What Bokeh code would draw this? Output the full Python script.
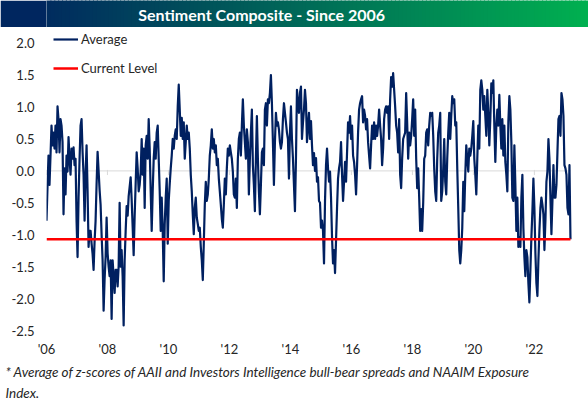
import pandas as pd
from bokeh.plotting import figure
from bokeh.models import (Range1d, FixedTicker, CustomJSTickFormatter,
                          NumeralTickFormatter, Label, Title)
from bokeh.layouts import column
from bokeh.embed import file_html
from bokeh.resources import INLINE

# ---------------- data ----------------
avg_2006_07 = [-0.78, -0.25, 0.24, -0.22, 0.24, 0.71, 0.40, 0.60, 0.35, 0.71,
               0.29, 1.01, 0.80, 0.29, 0.81, 0.71, 0.45, -0.68, 0.04, -0.37,
               0.24, -0.01, 0.53, 0.19, -0.06, 0.35, 0.19, 0.37, 0.09, 0.19,
               -0.78, -1.35, -0.42, 0.19, 0.71, 0.81, 0.30, -0.06, -0.78, -0.06,
               0.40, -0.32, -1.19, -0.94, -0.94, -1.14, -1.30, -1.55, -1.10, -0.78,
               -0.20, 0.30, 0.00, -0.30, -0.53, -1.00, -1.40, -2.19, -1.70, -1.35,
               -0.73]
avg_2008_09 = [-1.29, -1.50, -1.65, -1.40, -2.32, -1.40, -1.65, -1.91, -1.55, -1.55,
               -1.81, -1.50, -0.50, -1.50, -1.24, -1.65, -2.42, -1.40, -0.95, -0.55,
               -0.70, -0.40, -0.25, -0.10, -0.45, -0.88, -1.32, -0.70, -0.20, 0.29,
               0.04, -0.32, -0.22, -0.01, 0.50, -0.06, 0.35, -0.58, 0.40, 0.55,
               0.19, 0.81, 0.35, -0.32, -0.94, -0.32, 0.19, 0.45, 0.19, 0.60,
               0.71, 0.19, -0.32, -0.94, -0.42, -0.94, -1.73, -0.83, -0.42, -0.12,
               -1.14]
avg_2010_11 = [-0.47, -0.20, 0.04, 0.24, 0.50, 0.35, 0.55, 0.65, 0.50, 1.01,
               1.35, 0.96, 0.55, 0.83, 0.50, 0.76, 0.19, 0.45, 0.71, 0.50,
               0.60, 0.35, -0.06, -0.32, -0.68, -0.99, -0.58, -0.42, -0.73, -0.83,
               -0.94, -0.89, -1.19, -1.40, -1.71, -1.14, -0.53, -0.17, -0.47, -0.37,
               -0.12, 0.24, 0.40, 0.65, 0.35, 0.50, 0.29, 0.40, 0.09, 0.19,
               -0.12, -0.32, -0.53, -0.75, -0.89, -0.53, -0.12, -0.37, 0.04, 0.35,
               0.24]
avg_2012_13 = [0.40, 0.29, 0.19, -0.01, -0.37, -0.42, -0.12, -0.58, 0.19, 0.50,
               0.60, 0.24, 0.71, 1.12, 0.71, 0.45, 0.19, 0.65, 0.45, -0.37,
               0.19, 0.60, 0.96, 0.09, -0.22, -0.63, 0.19, 0.86, 0.19, -0.32,
               -0.68, -0.22, 0.29, 0.35, 0.09, 0.96, 1.06, 0.71, 1.12, 1.06,
               1.22, 1.50, 1.06, 0.45, -0.22, 0.45, 0.91, 0.71, 0.76, 0.65,
               0.45, 0.35, 0.45, 0.81, 1.06, 0.91, 0.76, 0.60, 0.50, -0.12,
               0.60]
avg_2014_15 = [1.01, 0.50, 0.19, -0.22, -0.63, 0.19, 1.27, 1.06, 0.91, 1.22,
               1.32, 0.50, 0.76, 0.96, 1.27, 1.06, 0.45, 0.71, 0.91, 0.50,
               0.78, 0.40, 0.09, 0.28, 0.00, 0.20, -0.17, -0.10, -0.47, -0.50,
               -0.89, -0.78, -0.94, -1.45, -0.47, 0.09, 0.35, 0.04, -0.17, -0.01,
               -0.42, -1.04, -1.45, -1.24, -1.60, -1.09, -0.58, -0.12, 0.04, 0.14,
               0.45, -0.06, -0.47, -0.17, 0.14, -0.17, 0.29, 0.76, 0.60, 0.86,
               0.50]
avg_2016_17 = [0.71, 0.24, 0.14, -0.06, -0.37, 0.09, 0.60, 0.96, 1.06, 1.12,
               1.17, 0.76, 0.96, 0.86, 0.65, 0.81, 0.45, 0.24, 0.04, 0.40,
               0.71, 0.50, 0.76, 0.50, 0.71, 0.55, 0.71, 0.96, 0.71, 0.50,
               0.09, 0.35, 0.81, 0.96, 1.01, 0.91, 1.01, 0.50, 1.12, 1.47,
               1.32, 1.53, 1.27, 1.01, 0.71, 0.60, 0.29, 0.81, -0.06, -0.27,
               0.20, 0.50, 0.55, 0.60, 1.22, 0.76, 0.19, 0.60, 0.40, 0.55,
               0.81]
avg_2018_19 = [1.12, 0.55, 0.96, 0.19, -0.27, 0.04, -0.42, -0.94, -0.60, -0.94,
               -0.50, 0.19, 0.24, 0.60, 0.65, 0.40, 0.71, 0.91, 0.86, 0.91,
               0.55, 0.04, -0.32, -0.47, 0.19, 0.60, 0.71, 0.91, -0.47, -0.32,
               0.04, 0.50, -0.17, -0.37, 0.19, 0.60, 0.91, 0.50, 0.86, 1.17,
               1.06, 1.12, 0.71, 0.76, 0.04, -0.58, -1.24, -1.45, -1.24, -0.89,
               -0.17, -0.63, -0.06, 0.40, 0.19, -0.01, 0.35, 0.24, 0.35, 0.55,
               0.78]
avg_2020_21 = [0.19, -0.06, -0.37, 0.19, 0.71, 0.35, 1.27, 1.42, 1.27, 0.96,
               1.17, 0.86, 0.55, 1.27, 0.91, 0.40, 0.81, 1.37, 1.22, 1.42,
               0.71, 0.14, 0.71, 0.96, 0.71, 1.19, 0.71, 0.35, 0.81, 0.24,
               0.71, 0.14, -0.06, -0.32, 0.76, 1.17, 0.96, 0.45, -0.42, -0.47,
               0.40, -0.22, -0.94, -0.42, -1.19, -1.04, -1.19, -0.42, -0.06, -0.89,
               -1.35, -1.65, -1.24, -1.35, -1.76, -2.06, -1.55, -1.04, -0.63, -0.12,
               -0.58]
avg_2022_23 = [-1.29, -1.76, -1.96, -1.40, -0.94, -0.58, -0.42, -0.53, -0.68, -1.24,
               -0.78, -0.17, -0.01, 0.50, 0.19, -0.42, -0.99, -0.47, 0.09, -0.42,
               -0.42, -0.22, 0.29, 0.81, 0.86, 0.55, 1.22, 1.12, 0.86, 0.09,
               0.04, -0.06, -0.58, -0.68, 0.09, -1.07]

current_level = -1.07

y_ticks = [-2.5, -2.0, -1.5, -1.0, -0.5, 0.0, 0.5, 1.0, 1.5, 2.0]
tick_years = [2006, 2008, 2010, 2012, 2014, 2016, 2018, 2020, 2022]
tick_labels = ["'06", "'08", "'10", "'12", "'14", "'16", "'18", "'20", "'22"]

title_text = "Sentiment Composite - Since 2006"
legend_labels = ["Average", "Current Level"]
footnote_1 = ("* Average of z-scores of AAII and Investors Intelligence "
              "bull-bear spreads and NAAIM Exposure")
footnote_2 = "Index."

# ---------------- assemble ----------------
values = (avg_2006_07 + avg_2008_09 + avg_2010_11 + avg_2012_13 + avg_2014_15
          + avg_2016_17 + avg_2018_19 + avg_2020_21 + avg_2022_23)
dates = pd.date_range("2006-01-01", periods=len(values), freq="12D")
x_ms = [d.value / 1e6 for d in dates]
tick_ms = [pd.Timestamp(f"{y}-01-01").value / 1e6 for y in tick_years]
x_end = (dates[-1] + pd.Timedelta(days=216)).value / 1e6   # empty strip right of data

FONT = "Lato"
TXT = "#262626"
NAVY = "#002060"
W, H = 588, 401
BANNER_H = 27
LEFT = 46

# ---------------- banner ----------------
banner = figure(width=W, height=BANNER_H, x_range=Range1d(0, 1), y_range=Range1d(0, 1),
                output_backend="svg", toolbar_location=None,
                x_axis_location=None, y_axis_location=None, min_border=0)
banner.outline_line_color = None
banner.grid.visible = False
banner.border_fill_color = "#00265f"
c0 = (0, 32, 96)
c1 = (0, 176, 80)
n = 140
lefts, rights, cols = [], [], []
for i in range(n):
    f = i / n
    t = (LEFT + (f + 0.5 / n) * (W - LEFT)) / W
    r = round(c0[0] + (c1[0] - c0[0]) * t)
    g = round(c0[1] + (c1[1] - c0[1]) * t)
    b = round(c0[2] + (c1[2] - c0[2]) * t)
    lefts.append(f - (0.01 if i == 0 else 0))
    rights.append(f + 1.0 / n + 0.002)
    cols.append(f"#{r:02x}{g:02x}{b:02x}")
banner.quad(left=lefts, right=rights, bottom=-0.05, top=1.05, fill_color=cols,
            line_color=None)
banner.add_layout(Label(x=0.397, y=0.5, text=title_text, text_align="center",
                        text_baseline="middle", text_color="white",
                        text_font=FONT, text_font_style="bold",
                        text_font_size="16px"))

# ---------------- main chart ----------------
p = figure(width=W, height=H - BANNER_H, x_axis_type="datetime",
           x_range=Range1d(x_ms[0], x_end), y_range=Range1d(-2.5, 2.0 + 16 / 65),
           output_backend="svg", toolbar_location=None,
           min_border_left=LEFT, min_border_right=0, min_border_top=0,
           min_border_bottom=66)
p.outline_line_color = None
p.grid.visible = False
p.background_fill_color = "white"

# zero line with small year ticks
p.line([x_ms[0], x_ms[-1]], [0, 0], line_color="#D9D9D9", line_width=1)
p.segment(x0=tick_ms, y0=0.015, x1=tick_ms, y1=-0.065, line_color="#D9D9D9", line_width=1)

p.line(x_ms, values, line_color=NAVY, line_width=2.2, line_join="round",
       legend_label=legend_labels[0])
p.line([x_ms[0], x_ms[-1]], [current_level, current_level], line_color="#FF0000",
       line_width=2.5, legend_label=legend_labels[1])

# y axis
p.yaxis.ticker = FixedTicker(ticks=y_ticks)
p.yaxis.formatter = NumeralTickFormatter(format="0.0")
p.yaxis.axis_line_color = None
p.yaxis.major_tick_line_color = None
p.yaxis.minor_tick_line_color = None
p.yaxis.major_tick_out = 0
p.yaxis.major_tick_in = 0
p.yaxis.major_label_standoff = 12
p.yaxis.major_label_text_font = FONT
p.yaxis.major_label_text_font_size = "13px"
p.yaxis.major_label_text_color = TXT

# x axis
p.xaxis.ticker = FixedTicker(ticks=tick_ms)
p.xaxis.formatter = CustomJSTickFormatter(
    args=dict(tick_vals=tick_ms, tick_txt=tick_labels),
    code="const i = tick_vals.indexOf(tick); return i >= 0 ? tick_txt[i] : '';")
p.xaxis.axis_line_color = None
p.xaxis.major_tick_line_color = None
p.xaxis.minor_tick_line_color = None
p.xaxis.major_tick_out = 0
p.xaxis.major_tick_in = 0
p.xaxis.major_label_standoff = 10
p.xaxis.major_label_text_font = FONT
p.xaxis.major_label_text_font_size = "13px"
p.xaxis.major_label_text_color = TXT

# legend
lg = p.legend[0]
lg.location = (7, 252)
lg.background_fill_alpha = 0
lg.border_line_alpha = 0
lg.padding = 0
lg.margin = 0
lg.spacing = 9
lg.label_height = 20
lg.glyph_height = 20
lg.glyph_width = 25
lg.label_standoff = 3
lg.label_text_font = FONT
lg.label_text_font_size = "13px"
lg.label_text_color = TXT

# footnote (two title lines below the axis)
for txt, so in [(footnote_1, 4), (footnote_2, 2)]:
    p.add_layout(Title(text=txt, align="left", offset=-41, standoff=so,
                       text_font=FONT, text_font_style="italic",
                       text_font_size="13.5px", text_color=TXT), "below")

layout = column(banner, p, spacing=0)
open("out.html", "w").write(file_html(layout, INLINE))
